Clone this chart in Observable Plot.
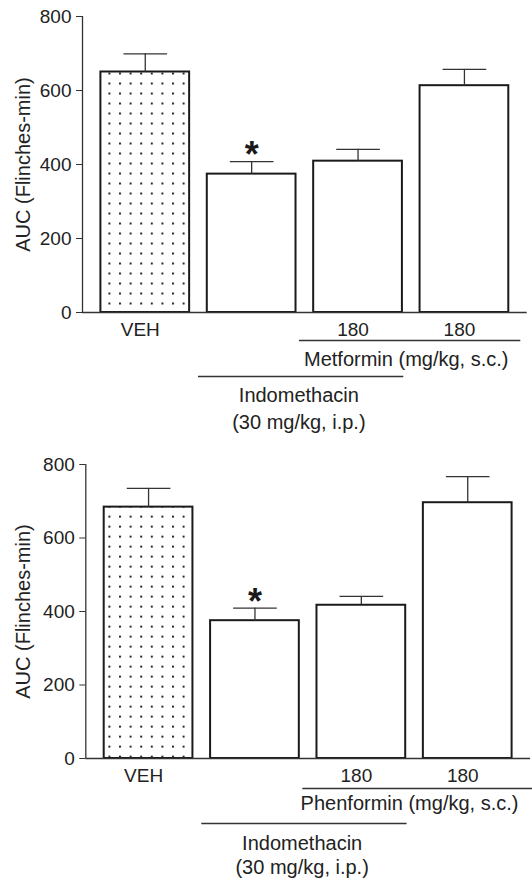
<!DOCTYPE html>
<html>
<head>
<meta charset="utf-8">
<script src="https://cdn.jsdelivr.net/npm/d3@7"></script>
<script src="https://cdn.jsdelivr.net/npm/@observablehq/plot@0.6"></script>
<style>
  body { margin: 0; background: #fff; }
  svg { display: block; }
</style>
</head>
<body>
<div id="chart"></div>
<script>
// ---- data ----
const categories = ["VEH", "Indomethacin", "Indomethacin + Drug 180", "Drug 180"];
const tickLabels = ["VEH", "", "180", "180"];
const metforminMeans = [650, 374, 409, 613];
const metforminSEM = [49, 34, 32, 44];
const phenforminMeans = [684, 375, 417, 696];
const phenforminSEM = [51, 34, 24, 71];
const significant = [false, true, false, false];
const yTicks = [0, 200, 400, 600, 800];
const yLabel = "AUC (Flinches-min)";
const drugLabels = ["Metformin (mg/kg, s.c.)", "Phenformin (mg/kg, s.c.)"];
const indoLabels = ["Indomethacin", "(30 mg/kg, i.p.)"];
const indoSpan = [1, 2];   // bars receiving indomethacin
const drugSpan = [2, 3];   // bars receiving the biguanide

const FONT = "'Liberation Sans', Arial, Helvetica, sans-serif";
const xDomain = [-0.59, 3.59];
const HW = 0.417, CAP = 0.205;

function panel(o) {
  const data = categories.map((c, i) => ({
    i, cat: c, label: tickLabels[i], mean: o.means[i], top: o.means[i] + o.sems[i], sig: significant[i]
  }));
  const id = "dots-" + o.id;
  const indo = {from: indoSpan[0], to: indoSpan[1], ext0: 0.5, ext1: 0.43};
  const drug = {from: drugSpan[0], to: drugSpan[1], ext0: 0.55, ext1: o.drugExt};
  const lineStyle = {stroke: "#333", strokeWidth: 1.3};
  const span = {y: () => 0, x1: d => d.from - d.ext0, x2: d => d.to + d.ext1};
  const chart = Plot.plot({
    width: 532,
    height: o.height,
    marginTop: o.mt, marginBottom: o.mb, marginLeft: o.ml, marginRight: o.mr,
    style: {fontFamily: FONT, fontSize: "19px", color: "#222", background: "white", overflow: "visible"},
    x: {domain: xDomain, axis: null},
    y: {domain: [0, 800], axis: null},
    marks: [
      Plot.rectY(data.filter(d => d.i === 0), {x1: d => d.i - HW, x2: d => d.i + HW, y: "mean", fill: `url(#${id})`, stroke: "#1a1a1a", strokeWidth: 2}),
      Plot.rectY(data.filter(d => d.i !== 0), {x1: d => d.i - HW, x2: d => d.i + HW, y: "mean", fill: "white", stroke: "#1a1a1a", strokeWidth: 2}),
      Plot.ruleX(data, {x: "i", y1: "mean", y2: "top", ...lineStyle}),
      Plot.link(data, {x1: d => d.i - CAP, x2: d => d.i + CAP, y1: "top", y2: "top", ...lineStyle}),
      Plot.text(data.filter(d => d.sig), {x: "i", y: "top", text: () => "*", dy: -20, lineAnchor: "top", fontSize: 36, fontWeight: "bold", fill: "#1a1a1a"}),
      Plot.axisY({ticks: yTicks, tickSize: 6, tickPadding: 5, fontSize: 19, label: null, stroke: "#333"}),
      Plot.ruleX([xDomain[0]], lineStyle),
      Plot.ruleY([0], lineStyle),
      Plot.text([yLabel], {frameAnchor: "left", textAnchor: "middle", rotate: -90, dx: o.labelDx, fontSize: 20, fill: "#222"}),
      Plot.text(data, {x: "i", y: 0, text: "label", dy: o.dyTicks, dx: -5, fontSize: 19, fill: "#222"}),
      Plot.ruleY([indo], {...span, dy: o.dyIndoLine, ...lineStyle}),
      Plot.ruleY([drug], {...span, dy: o.dyDrugLine, ...lineStyle}),
      Plot.text([o.drug], {x: () => (drugSpan[0] + drugSpan[1]) / 2, y: () => 0, text: d => d, dy: o.dyDrugText, dx: -5, fontSize: 20, fill: "#222"}),
      Plot.text([indoLabels[0]], {x: () => (indoSpan[0] + indoSpan[1]) / 2, y: () => 0, text: d => d, dy: o.dyIndoText1, dx: -6, fontSize: 20, fill: "#222"}),
      Plot.text([indoLabels[1]], {x: () => (indoSpan[0] + indoSpan[1]) / 2, y: () => 0, text: d => d, dy: o.dyIndoText2, dx: -6, fontSize: 20, fill: "#222"})
    ]
  });
  // dotted fill pattern for the vehicle bar, anchored to the bar through the scales
  const sx = chart.scale("x"), sy = chart.scale("y");
  const left = sx.apply(0 - HW), top = sy.apply(o.means[0]);
  const ns = "http://www.w3.org/2000/svg";
  const defs = document.createElementNS(ns, "defs");
  const pat = document.createElementNS(ns, "pattern");
  pat.setAttribute("id", id);
  pat.setAttribute("patternUnits", "userSpaceOnUse");
  pat.setAttribute("x", left + o.patX - 1);
  pat.setAttribute("y", top + o.patY - 1);
  pat.setAttribute("width", 10.6);
  pat.setAttribute("height", 10);
  const bg = document.createElementNS(ns, "rect");
  bg.setAttribute("width", 10.6); bg.setAttribute("height", 10); bg.setAttribute("fill", "white");
  const dot = document.createElementNS(ns, "rect");
  dot.setAttribute("width", 2); dot.setAttribute("height", 2); dot.setAttribute("fill", "#2a2a2a");
  pat.appendChild(bg); pat.appendChild(dot); defs.appendChild(pat);
  chart.insertBefore(defs, chart.firstChild);
  return chart;
}

const root = document.getElementById("chart");
root.appendChild(panel({
  id: "a", means: metforminMeans, sems: metforminSEM, drug: drugLabels[0],
  height: 440, mt: 16, mb: 128, ml: 82, mr: 5.3, labelDx: -59, drugExt: 0.53,
  dyTicks: 17, dyDrugLine: 28, dyDrugText: 47, dyIndoLine: 64, dyIndoText1: 83, dyIndoText2: 110,
  patX: 9, patY: 2
}));
root.appendChild(panel({
  id: "b", means: phenforminMeans, sems: phenforminSEM, drug: drugLabels[1],
  height: 443, mt: 24, mb: 125, ml: 85.3, mr: 2, labelDx: -62, drugExt: 0.62,
  dyTicks: 17, dyDrugLine: 30, dyDrugText: 45, dyIndoLine: 65, dyIndoText1: 85, dyIndoText2: 109,
  patX: 5.7, patY: 10
}));
</script>
</body>
</html>
